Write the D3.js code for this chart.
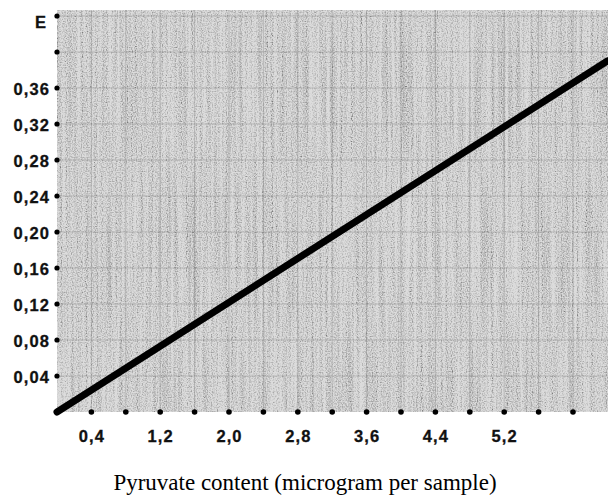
<!DOCTYPE html>
<html><head><meta charset="utf-8">
<script src="https://cdn.jsdelivr.net/npm/d3@7/dist/d3.min.js"></script>
<style>body{margin:0;background:#fff}svg{display:block}</style>
</head><body>
<script>
// ---- data ----
const xTickValues = [0.4, 1.2, 2.0, 2.8, 3.6, 4.4, 5.2];
const xTickLabels = ["0,4", "1,2", "2,0", "2,8", "3,6", "4,4", "5,2"];
const xDotValues = [0, 0.4, 0.8, 1.2, 1.6, 2.0, 2.4, 2.8, 3.2, 3.6, 4.0, 4.4, 4.8, 5.2, 5.6, 6.0];
const yTickValues = [0.04, 0.08, 0.12, 0.16, 0.20, 0.24, 0.28, 0.32, 0.36];
const yTickLabels = ["0,04", "0,08", "0,12", "0,16", "0,20", "0,24", "0,28", "0,32", "0,36"];
const yDotValues = [0, 0.04, 0.08, 0.12, 0.16, 0.20, 0.24, 0.28, 0.32, 0.36, 0.40, 0.44];
const lineX = [0, 6.4];
const lineE = [0, 0.39];
const yAxisTitle = "E";
const xAxisTitle = "Pyruvate content (microgram per sample)";

const W = 608, H = 499;
const svg = d3.select("body").append("svg").attr("width", W).attr("height", H);

const x = d3.scaleLinear().domain([0, 6]).range([57, 573]);
const y = d3.scaleLinear().domain([0, 0.44]).range([412, 16]);

// paper texture filter
const defs = svg.append("defs");
const f = defs.append("filter").attr("id", "grain").attr("x", 0).attr("y", 0).attr("width", 1).attr("height", 1);
f.append("feTurbulence").attr("type", "fractalNoise").attr("baseFrequency", "0.8 0.8").attr("numOctaves", 1).attr("seed", 3).attr("result", "n1");
f.append("feTurbulence").attr("type", "fractalNoise").attr("baseFrequency", "0.35 0.006").attr("numOctaves", 2).attr("seed", 7).attr("result", "n2");
f.append("feComposite").attr("in", "n1").attr("in2", "n2").attr("operator", "arithmetic")
  .attr("k1", 0).attr("k2", 0.8).attr("k3", 0.35).attr("k4", -0.1).attr("result", "n3");
f.append("feColorMatrix").attr("in", "n3").attr("type", "matrix")
  .attr("values", "0 0 0 0 0  0 0 0 0 0  0 0 0 0 0  -1.5 0 0 0 0.72").attr("result", "dark");
f.append("feComposite").attr("in", "dark").attr("in2", "SourceGraphic").attr("operator", "in").attr("result", "d2");
f.append("feMerge").selectAll("feMergeNode").data(["SourceGraphic", "d2"]).join("feMergeNode").attr("in", d => d);

const plotLeft = x(0), plotTop = 10, plotBottom = y(0);
svg.append("rect").attr("x", plotLeft).attr("y", plotTop)
  .attr("width", W - plotLeft).attr("height", plotBottom - plotTop)
  .attr("fill", "#dcdcdc").attr("filter", "url(#grain)");

// faint grid
const g = svg.append("g").attr("stroke", "#666").attr("stroke-opacity", 0.3).attr("stroke-width", 1);
g.selectAll("line.h").data(yDotValues.slice(1)).join("line")
  .attr("x1", plotLeft).attr("x2", W).attr("y1", d => y(d)).attr("y2", d => y(d));
g.selectAll("line.v").data(xDotValues.slice(1)).join("line")
  .attr("y1", plotTop).attr("y2", plotBottom).attr("x1", d => x(d)).attr("x2", d => x(d));

// axes (labels only, via d3 axes)
const yAxis = d3.axisLeft(y).tickValues(yTickValues).tickSize(0).tickPadding(7)
  .tickFormat((d, i) => yTickLabels[i]);
const ya = svg.append("g").attr("transform", `translate(${x(0)},0)`).call(yAxis);
ya.select(".domain").remove();
ya.selectAll("text").attr("font-family", "Liberation Sans, Arial, sans-serif")
  .attr("font-weight", "bold").attr("font-size", 16.5).attr("letter-spacing", 1.1)
  .attr("fill", "#111").attr("stroke", "#111").attr("stroke-width", 0.3).attr("dy", "0.38em");

const xAxis = d3.axisBottom(x).tickValues(xTickValues).tickSize(0).tickPadding(18)
  .tickFormat((d, i) => xTickLabels[i]);
const xa = svg.append("g").attr("transform", `translate(0,${y(0)})`).call(xAxis);
xa.select(".domain").remove();
xa.selectAll("text").attr("font-family", "Liberation Sans, Arial, sans-serif")
  .attr("font-weight", "bold").attr("font-size", 16.5).attr("letter-spacing", 1.1)
  .attr("fill", "#111").attr("stroke", "#111").attr("stroke-width", 0.3);

// tick dots
svg.append("g").selectAll("circle").data(yDotValues).join("circle")
  .attr("cx", x(0)).attr("cy", d => y(d)).attr("r", 2.6).attr("fill", "#000");
svg.append("g").selectAll("circle").data(xDotValues).join("circle")
  .attr("cx", d => x(d)).attr("cy", y(0)).attr("r", 2.8).attr("fill", "#000");

// line
const pts = lineX.map((v, i) => [v, lineE[i]]);
svg.append("path").datum(pts)
  .attr("d", d3.line().x(d => x(d[0])).y(d => y(d[1])))
  .attr("fill", "none").attr("stroke", "#000").attr("stroke-width", 7).attr("stroke-linecap", "round");

// titles
svg.append("text").attr("x", 46).attr("y", 28).attr("text-anchor", "end")
  .attr("font-family", "Liberation Sans, Arial, sans-serif").attr("font-weight", "bold")
  .attr("font-size", 16.5).attr("fill", "#111").attr("stroke", "#111").attr("stroke-width", 0.3).text(yAxisTitle);
svg.append("text").attr("x", 305).attr("y", 490).attr("text-anchor", "middle")
  .attr("font-family", "Liberation Serif, Times New Roman, serif")
  .attr("font-size", 23).attr("fill", "#000").text(xAxisTitle);
</script>
</body></html>
